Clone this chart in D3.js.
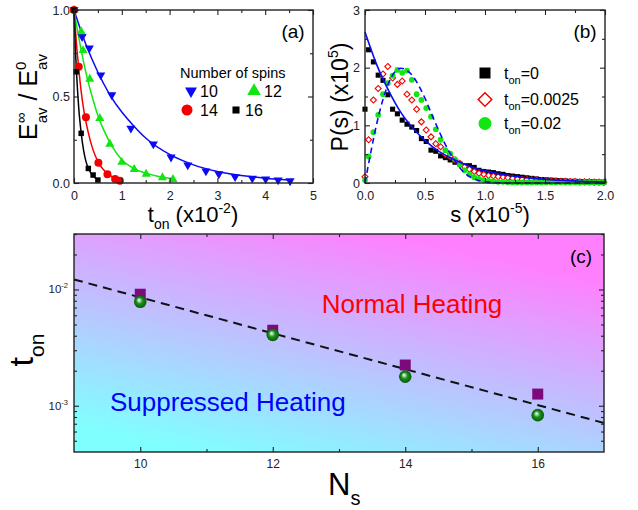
<!DOCTYPE html>
<html>
<head>
<meta charset="utf-8">
<script src="https://cdn.jsdelivr.net/npm/d3@7"></script>
<style>
  body { margin: 0; background: #fff; }
</style>
</head>
<body>
<div id="chart"></div>
<script>
// (a) heating ratio vs t_on for each number of spins
const spins = ['10', '12', '14', '16'];
const t10 = [0, 0.17, 0.32, 0.56, 0.79, 1.19, 1.66, 2.03, 2.38, 2.76, 3.03, 3.37, 3.73, 4.01, 4.27, 4.52];
const e10 = [1.0, 0.846, 0.779, 0.624, 0.509, 0.316, 0.225, 0.149, 0.104, 0.069, 0.052, 0.036, 0.027, 0.023, 0.017, 0.012];
const t12 = [0, 0.15, 0.19, 0.33, 0.54, 0.75, 1.00, 1.26, 1.51, 1.85, 2.07];
const e12 = [1.0, 0.875, 0.766, 0.601, 0.374, 0.225, 0.120, 0.079, 0.052, 0.031, 0.021];
const t14 = [0, 0.10, 0.25, 0.51, 0.70, 0.86, 0.96];
const e14 = [1.0, 0.672, 0.380, 0.117, 0.050, 0.023, 0.013];
const t16 = [0, 0.046, 0.15, 0.30, 0.40, 0.50];
const e16 = [1.0, 0.643, 0.287, 0.084, 0.046, 0.017];

// fitted curves in (a)
const fitT10 = [0, 0.25, 0.5, 0.75, 1, 1.25, 1.5, 2, 2.5, 3, 3.5, 4, 4.5];
const fitE10 = [1.0, 0.80, 0.64, 0.51, 0.41, 0.33, 0.26, 0.165, 0.105, 0.067, 0.043, 0.028, 0.018];
const fitT12 = [0, 0.1, 0.2, 0.3, 0.4, 0.5, 0.6, 0.8, 1.0, 1.25, 1.5, 1.75, 2.05];
const fitE12 = [1.0, 0.84, 0.70, 0.58, 0.48, 0.39, 0.32, 0.21, 0.135, 0.085, 0.057, 0.039, 0.026];
const fitT14 = [0, 0.05, 0.1, 0.15, 0.2, 0.3, 0.4, 0.5, 0.6, 0.7, 0.8, 0.95];
const fitE14 = [1.0, 0.81, 0.66, 0.53, 0.43, 0.29, 0.19, 0.125, 0.082, 0.055, 0.036, 0.02];
const fitT16 = [0, 0.025, 0.05, 0.075, 0.1, 0.15, 0.2, 0.25, 0.3, 0.4, 0.5];
const fitE16 = [1.0, 0.80, 0.65, 0.53, 0.43, 0.29, 0.19, 0.125, 0.085, 0.04, 0.02];

// (b) level spacing distributions
const sBins = [0.00, 0.03, 0.07, 0.11, 0.15, 0.19, 0.23, 0.27, 0.31, 0.35, 0.39, 0.43, 0.47, 0.51, 0.55, 0.59, 0.63,
  0.67, 0.71, 0.75, 0.79, 0.83, 0.87, 0.91, 0.95, 0.99, 1.03, 1.07, 1.11, 1.15, 1.19, 1.23, 1.27, 1.31, 1.35,
  1.39, 1.43, 1.47, 1.51, 1.55, 1.59, 1.63, 1.67, 1.71, 1.75, 1.79, 1.83, 1.87, 1.91, 1.95, 1.99];
const pTon0 = [1.28, 2.31, 2.10, 1.87, 1.78, 1.53, 1.28, 1.20, 1.09, 1.02, 0.97, 0.91, 0.77, 0.72, 0.57, 0.55, 0.47,
  0.44, 0.40, 0.36, 0.33, 0.30, 0.30, 0.27, 0.22, 0.20, 0.19, 0.18, 0.16, 0.15, 0.13, 0.12, 0.11, 0.10, 0.09,
  0.08, 0.07, 0.06, 0.055, 0.05, 0.045, 0.04, 0.035, 0.03, 0.03, 0.025, 0.02, 0.02, 0.02, 0.015, 0.015];
const pTon0025 = [0.11, 0.75, 1.44, 1.64, 1.89, 2.02, 1.82, 1.71, 1.77, 1.54, 1.44, 1.28, 1.06, 0.92, 0.80, 0.68, 0.63,
  0.50, 0.46, 0.40, 0.34, 0.28, 0.24, 0.20, 0.17, 0.15, 0.13, 0.12, 0.11, 0.10, 0.09, 0.08, 0.07, 0.065, 0.06,
  0.055, 0.05, 0.045, 0.04, 0.04, 0.035, 0.03, 0.03, 0.025, 0.025, 0.02, 0.02, 0.02, 0.015, 0.015, 0.01];
const pTon02 = [0.05, 0.46, 0.88, 1.18, 1.54, 1.73, 1.86, 1.96, 1.91, 1.95, 1.79, 1.54, 1.44, 1.30, 1.15, 0.93, 0.75,
  0.57, 0.51, 0.41, 0.32, 0.22, 0.15, 0.10, 0.07, 0.05, 0.035, 0.03, 0.02, 0.02, 0.015, 0.01, 0.01, 0.01, 0.01,
  0.01, 0.01, 0.01, 0.01, 0.01, 0.01, 0.01, 0.01, 0.01, 0.01, 0.01, 0.01, 0.01, 0.01, 0.01, 0.01];
const tonLabels = ['=0', '=0.0025', '=0.02'];
const poissonS = [0, 0.1, 0.2, 0.3, 0.4, 0.5, 0.6, 0.7, 0.8, 0.9, 1.0, 1.2, 1.4, 1.6, 1.8, 2.0];
const poissonP = [2.62, 2.04, 1.59, 1.22, 0.95, 0.74, 0.57, 0.45, 0.35, 0.27, 0.21, 0.13, 0.08, 0.05, 0.03, 0.018];
const wignerS = [0, 0.05, 0.1, 0.15, 0.2, 0.25, 0.3, 0.35, 0.4, 0.45, 0.5, 0.55, 0.6, 0.65, 0.7, 0.75, 0.8, 0.85, 0.9, 1.0, 1.1, 1.2, 2.0];
const wignerP = [0, 0.55, 1.05, 1.45, 1.75, 1.93, 1.99, 1.95, 1.85, 1.68, 1.47, 1.22, 0.98, 0.75, 0.55, 0.38, 0.24, 0.14, 0.08, 0.02, 0.005, 0, 0];

// (c) crossover t_on vs N_s
const nSpins = [10, 12, 14, 16];
const tonSquare = [0.0091, 0.00446, 0.00224, 0.00126];
const tonSphere = [0.00785, 0.00407, 0.00178, 0.00083];
const lineN = [9, 17];
const lineT = [0.0122, 0.00071];

const FONT = '"Liberation Sans", Arial, Helvetica, sans-serif';
const BLUE = '#0a0af5', GREEN = '#12e612', RED = '#f20000', BLACK = '#000';

const svg = d3.select('#chart').append('svg')
    .attr('width', 638)
    .attr('height', 510)
    .style('font-family', FONT);

const defs = svg.append('defs');
const bg = defs.append('linearGradient').attr('id', 'bg')
    .attr('x1', 0).attr('y1', 1).attr('x2', 0.64).attr('y2', -0.19);
bg.append('stop').attr('offset', 0.08).attr('stop-color', '#80ffff');
bg.append('stop').attr('offset', 0.86).attr('stop-color', '#ff80ff');
const ball = defs.append('radialGradient').attr('id', 'ball')
    .attr('cx', 0.5).attr('cy', 0.5).attr('r', 0.5).attr('fx', 0.38).attr('fy', 0.35);
ball.append('stop').attr('offset', 0).attr('stop-color', '#ffffff');
ball.append('stop').attr('offset', 0.22).attr('stop-color', '#9fd89f');
ball.append('stop').attr('offset', 0.5).attr('stop-color', '#1c8f1c');
ball.append('stop').attr('offset', 1).attr('stop-color', '#045f04');

// text with sub/superscripts; parts: {t, size, shift, stack}
function rich(parts, x, y, anchor, rotate, color) {
    const t = svg.append('text')
        .attr('transform', rotate ? `translate(${x},${y}) rotate(-90)` : `translate(${x},${y})`)
        .attr('text-anchor', anchor || 'start')
        .attr('fill', color || '#000');
    let cur = 0, prev = null;
    parts.forEach(p => {
        const shift = p.shift || 0;
        const ts = t.append('tspan').text(p.t).attr('font-size', p.size).attr('dy', shift - cur);
        if (p.stack && prev) ts.attr('dx', -prev.node().getComputedTextLength());
        cur = shift;
        prev = ts;
    });
    return t;
}

function axes(x, y, o) {
    const [l, r] = x.range(), [b, t] = y.range();
    const style = g => g.attr('font-size', o.fs || 12.5).attr('font-family', FONT).attr('color', '#222')
        .call(g => g.select('.domain').remove())
        .call(g => g.selectAll('line').attr('stroke-width', 1.1));
    svg.append('g').attr('transform', `translate(0,${b})`)
        .call(d3.axisBottom(x).tickValues(o.xMajor).tickSize(-5).tickPadding(o.xPad).tickFormat(o.xFmt)).call(style);
    svg.append('g').attr('transform', `translate(0,${b})`)
        .call(d3.axisBottom(x).tickValues(o.xMinor).tickSize(-3).tickFormat('')).call(style);
    svg.append('g').attr('transform', `translate(0,${t})`)
        .call(d3.axisTop(x).tickValues(o.xMajor).tickSize(-5).tickFormat('')).call(style);
    svg.append('g').attr('transform', `translate(0,${t})`)
        .call(d3.axisTop(x).tickValues(o.xMinor).tickSize(-3).tickFormat('')).call(style);
    svg.append('g').attr('transform', `translate(${l},0)`)
        .call(d3.axisLeft(y).tickValues(o.yMajor).tickSize(-5).tickPadding(o.yPad).tickFormat(o.yFmt)).call(style);
    svg.append('g').attr('transform', `translate(${l},0)`)
        .call(d3.axisLeft(y).tickValues(o.yMinor).tickSize(-3).tickFormat('')).call(style);
    svg.append('g').attr('transform', `translate(${r},0)`)
        .call(d3.axisRight(y).tickValues(o.yMajor).tickSize(-5).tickFormat('')).call(style);
    svg.append('g').attr('transform', `translate(${r},0)`)
        .call(d3.axisRight(y).tickValues(o.yMinor).tickSize(-3).tickFormat('')).call(style);
    svg.append('rect').attr('x', l).attr('y', t).attr('width', r - l).attr('height', b - t)
        .attr('fill', 'none').attr('stroke', '#222').attr('stroke-width', 1.4);
}

function pts(xs, ys) { return xs.map((v, i) => [v, ys[i]]); }

// ---------- panel (a) ----------
const xa = d3.scaleLinear().domain([0, 5]).range([74, 313]);
const ya = d3.scaleLinear().domain([0, 1]).range([183, 10]);
const lineA = d3.line().x(d => xa(d[0])).y(d => ya(d[1])).curve(d3.curveMonotoneX);

const seriesA = [
    {data: pts(t10, e10), fit: pts(fitT10, fitE10), color: BLUE, shape: 'down'},
    {data: pts(t12, e12), fit: pts(fitT12, fitE12), color: GREEN, shape: 'up'},
    {data: pts(t14, e14), fit: pts(fitT14, fitE14), color: RED, shape: 'circle'},
    {data: pts(t16, e16), fit: pts(fitT16, fitE16), color: BLACK, shape: 'square'},
];
const shapeA = {
    down: d3.symbol(d3.symbolTriangle, 36), up: d3.symbol(d3.symbolTriangle, 36),
    circle: d3.symbol(d3.symbolCircle, 50), square: d3.symbol(d3.symbolSquare, 30)
};
const shapeLeg = {
    down: d3.symbol(d3.symbolTriangle, 62), up: d3.symbol(d3.symbolTriangle, 80),
    circle: d3.symbol(d3.symbolCircle, 95), square: d3.symbol(d3.symbolSquare, 50)
};

seriesA.forEach(s => {
    svg.append('path').attr('d', lineA(s.fit)).attr('fill', 'none')
        .attr('stroke', s.color).attr('stroke-width', 1.5);
});
seriesA.forEach(s => {
    svg.selectAll(null).data(s.data).join('path')
        .attr('d', shapeA[s.shape])
        .attr('transform', d => `translate(${xa(d[0])},${ya(d[1])})${s.shape === 'down' ? ' rotate(180)' : ''}`)
        .attr('fill', s.color);
});

axes(xa, ya, {
    xMajor: [0, 1, 2, 3, 4, 5], xMinor: [0.5, 1.5, 2.5, 3.5, 4.5], xPad: 8, xFmt: d3.format('d'),
    yMajor: [0, 0.5, 1], yMinor: [0.25, 0.75], yPad: 4, yFmt: d3.format('.1f')
});

// legend (a)
svg.append('text').attr('x', 180).attr('y', 78).attr('font-size', 14.5).text('Number of spins');
const legPos = [[191, 91, 200], [254, 91, 264], [187, 110, 200], [236, 110, 245]];
seriesA.forEach((s, i) => {
    const [mx, my, tx] = legPos[i];
    svg.append('path').attr('d', shapeLeg[s.shape])
        .attr('transform', `translate(${mx},${my})${s.shape === 'down' ? ' rotate(180)' : ''}`)
        .attr('fill', s.color);
    svg.append('text').attr('x', tx).attr('y', my + 6).attr('font-size', 16).text(spins[i]);
});
svg.append('text').attr('x', 293).attr('y', 38).attr('text-anchor', 'middle').attr('font-size', 19).text('(a)');

rich([
    {t: 'E', size: 25}, {t: '\u221E', size: 15, shift: -11}, {t: 'av', size: 15, shift: 10, stack: true},
    {t: ' / E', size: 25}, {t: '0', size: 15, shift: -11}, {t: 'av', size: 15, shift: 10, stack: true}
], 37, 97, 'middle', true);
rich([
    {t: 't', size: 22}, {t: 'on', size: 14, shift: 7}, {t: ' (x10', size: 22},
    {t: '-2', size: 14, shift: -9}, {t: ')', size: 22}
], 193, 222, 'middle');

// ---------- panel (b) ----------
const xb = d3.scaleLinear().domain([0, 2]).range([365, 605]);
const yb = d3.scaleLinear().domain([0, 3]).range([183, 10]);
const lineB = d3.line().x(d => xb(d[0])).y(d => yb(d[1])).curve(d3.curveMonotoneX);

const sq = d3.symbol(d3.symbolSquare, 26);
const dia = d3.symbol(d3.symbolSquare, 18);
svg.append('g').selectAll('path').data(pts(sBins, pTon0)).join('path')
    .attr('d', sq).attr('transform', d => `translate(${xb(d[0])},${yb(d[1])})`).attr('fill', BLACK);
svg.append('g').selectAll('path').data(pts(sBins, pTon0025)).join('path')
    .attr('d', dia).attr('transform', d => `translate(${xb(d[0])},${yb(d[1])}) rotate(45)`)
    .attr('fill', '#fff').attr('stroke', RED).attr('stroke-width', 1.1);
svg.append('g').selectAll('circle').data(pts(sBins, pTon02)).join('circle')
    .attr('cx', d => xb(d[0])).attr('cy', d => yb(d[1])).attr('r', 2.9).attr('fill', GREEN);

svg.append('path').attr('d', lineB(pts(poissonS, poissonP))).attr('fill', 'none')
    .attr('stroke', BLUE).attr('stroke-width', 1.6);
svg.append('path').attr('d', lineB(pts(wignerS, wignerP))).attr('fill', 'none')
    .attr('stroke', BLUE).attr('stroke-width', 1.6).attr('stroke-dasharray', '6,4');

axes(xb, yb, {
    xMajor: [0, 0.5, 1, 1.5, 2], xMinor: [0.25, 0.75, 1.25, 1.75], xPad: 8, xFmt: d3.format('.1f'),
    yMajor: [0, 1, 2, 3], yMinor: [0.5, 1.5, 2.5], yPad: 5, yFmt: d3.format('d')
});

// legend (b)
const legB = [73, 99.5, 123.5];
svg.append('path').attr('d', d3.symbol(d3.symbolSquare, 121)).attr('transform', `translate(485,${legB[0]})`).attr('fill', BLACK);
svg.append('path').attr('d', d3.symbol(d3.symbolSquare, 92)).attr('transform', `translate(485,${legB[1]}) rotate(45)`)
    .attr('fill', '#fff').attr('stroke', RED).attr('stroke-width', 1.5);
svg.append('circle').attr('cx', 485).attr('cy', legB[2]).attr('r', 6.5).attr('fill', GREEN);
tonLabels.forEach((lab, i) => {
    rich([{t: 't', size: 16}, {t: 'on', size: 11, shift: 5}, {t: lab, size: 16}], 504, legB[i] + 5.5, 'start');
});
svg.append('text').attr('x', 585).attr('y', 38).attr('text-anchor', 'middle').attr('font-size', 19).text('(b)');

rich([{t: 'P(s) (x10', size: 23}, {t: '5', size: 14, shift: -10}, {t: ')', size: 23}], 348, 97, 'middle', true);
rich([{t: 's (x10', size: 22}, {t: '-5', size: 14, shift: -9}, {t: ')', size: 22}], 490, 222, 'middle');

// ---------- panel (c) ----------
const xc = d3.scaleLinear().domain([9, 17]).range([74, 604]);
const yc = d3.scaleLog().domain([4e-4, 3e-2]).range([452, 234]);

svg.append('rect').attr('x', 74).attr('y', 234).attr('width', 530).attr('height', 218).attr('fill', 'url(#bg)');

svg.append('path').attr('d', d3.line().x(d => xc(d[0])).y(d => yc(d[1]))(pts(lineN, lineT)))
    .attr('fill', 'none').attr('stroke', '#111').attr('stroke-width', 2).attr('stroke-dasharray', '9,6');

svg.append('g').selectAll('path').data(pts(nSpins, tonSquare)).join('path')
    .attr('d', d3.symbol(d3.symbolSquare, 121))
    .attr('transform', d => `translate(${xc(d[0])},${yc(d[1])})`).attr('fill', '#7d0a7d');
svg.append('g').selectAll('circle').data(pts(nSpins, tonSphere)).join('circle')
    .attr('cx', d => xc(d[0])).attr('cy', d => yc(d[1])).attr('r', 6.3).attr('fill', 'url(#ball)');

const minorC = [5e-4, 6e-4, 7e-4, 8e-4, 9e-4, 2e-3, 3e-3, 4e-3, 5e-3, 6e-3, 7e-3, 8e-3, 9e-3, 2e-2, 3e-2];
axes(xc, yc, {
    xMajor: nSpins, xMinor: [11, 13, 15], xPad: 7.5, xFmt: d3.format('d'), fs: 12,
    yMajor: [1e-3, 1e-2], yMinor: minorC, yPad: 4, yFmt: () => ''
});
[[1e-2, '-2'], [1e-3, '-3']].forEach(([v, e]) => {
    rich([{t: '10', size: 11.5}, {t: e, size: 7.5, shift: -5}], 68, yc(v) + 4, 'end', false, '#222');
});

svg.append('text').attr('x', 412).attr('y', 313).attr('text-anchor', 'middle')
    .attr('font-size', 26).attr('fill', '#ff0000').text('Normal Heating');
svg.append('text').attr('x', 110).attr('y', 411)
    .attr('font-size', 26).attr('fill', '#0000ff').text('Suppressed Heating');
svg.append('text').attr('x', 581).attr('y', 263).attr('text-anchor', 'middle').attr('font-size', 19).text('(c)');

rich([{t: 't', size: 34}, {t: 'on', size: 21, shift: 11}], 33, 350, 'middle', true);
rich([{t: 'N', size: 31}, {t: 's', size: 20, shift: 10}], 328, 495, 'start');
</script>
</body>
</html>
